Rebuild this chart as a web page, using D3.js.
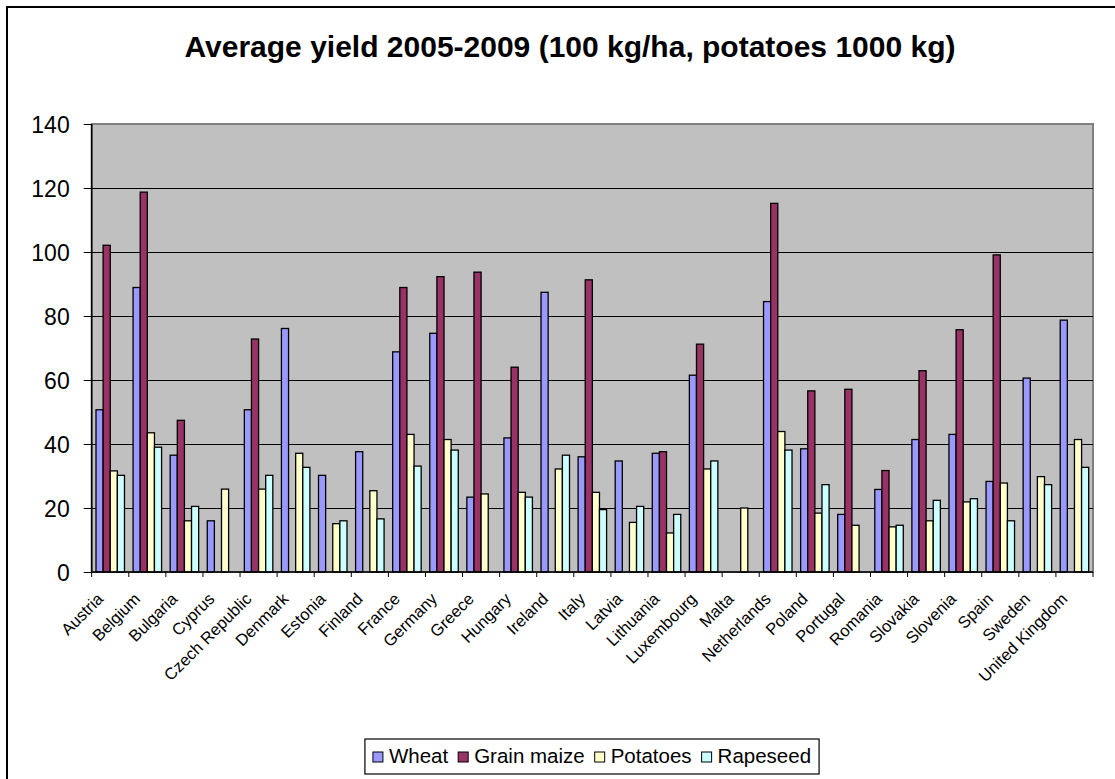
<!DOCTYPE html>
<html>
<head>
<meta charset="utf-8">
<script src="https://cdn.jsdelivr.net/npm/d3@7"></script>
<style>
  html, body { margin: 0; padding: 0; background: #fff; }
  svg { display: block; font-family: Arial, "Liberation Sans", sans-serif; }
</style>
</head>
<body>
<svg id="chart" width="1115" height="779"></svg>
<script>
const titleText = "Average yield 2005-2009 (100 kg/ha, potatoes 1000 kg)";
const countries = ["Austria","Belgium","Bulgaria","Cyprus","Czech Republic","Denmark","Estonia","Finland","France","Germany","Greece","Hungary","Ireland","Italy","Latvia","Lithuania","Luxembourg","Malta","Netherlands","Poland","Portugal","Romania","Slovakia","Slovenia","Spain","Sweden","United Kingdom"];
const seriesNames = ["Wheat","Grain maize","Potatoes","Rapeseed"];
const seriesColors = ["#9999FF","#993366","#FFFFCC","#CCFFFF"];
const wheat      = [50.7, 88.9, 36.5, 16.0, 50.7, 76.1, 30.2, 37.6, 68.8, 74.6, 23.4, 41.9, 87.4, 36.0, 34.7, 37.1, 61.5, null, 84.5, 38.5, 18.0, 25.8, 41.4, 43.0, 28.3, 60.6, 78.7];
const grainMaize = [102.1, 118.7, 47.4, null, 72.8, null, null, null, 88.9, 92.3, 93.7, 64.0, null, 91.3, null, 37.6, 71.2, null, 115.2, 56.6, 57.1, 31.7, 62.9, 75.7, 99.1, null, null];
const potatoes   = [31.6, 43.5, 16.0, 25.9, 25.9, 37.1, 15.1, 25.4, 43.0, 41.4, 24.4, 24.9, 32.2, 24.9, 15.5, 12.2, 32.2, 20.0, 43.9, 18.4, 14.6, 14.1, 16.0, 21.9, 27.8, 29.8, 41.4];
const rapeseed   = [30.2, 39.0, 20.5, null, 30.2, 32.7, 16.0, 16.6, 33.1, 38.1, null, 23.4, 36.5, 19.5, 20.5, 18.0, 34.7, null, 38.1, 27.3, null, 14.6, 22.4, 22.9, 16.0, 27.3, 32.7];
const yTicks = [0, 20, 40, 60, 80, 100, 120, 140];

const seriesValues = [wheat, grainMaize, potatoes, rapeseed];

const svg = d3.select("#chart");

// outer chart border
svg.append("rect").attr("x", 7).attr("y", 7).attr("width", 1130).attr("height", 800)
  .attr("fill", "#fff").attr("stroke", "#000").attr("stroke-width", 2);

const plotLeft = 91.7, plotRight = 1093, plotTop = 124, plotBottom = 572;

const x0 = d3.scaleBand().domain(countries).range([plotLeft, plotRight]).padding(0);
const bw = x0.bandwidth();
const x1 = d3.scaleBand().domain(seriesNames).range([bw * 0.116, bw * 0.884]).padding(0);
const y = d3.scaleLinear().domain([0, 140]).range([plotBottom, plotTop]);

// plot background
svg.append("rect").attr("x", plotLeft).attr("y", plotTop).attr("width", plotRight - plotLeft).attr("height", plotBottom - plotTop)
  .attr("fill", "#C0C0C0").attr("stroke", "#808080").attr("stroke-width", 2);

// gridlines
svg.append("g").selectAll("line").data(yTicks.filter(d => d > 0 && d < 140)).join("line")
  .attr("x1", plotLeft).attr("x2", plotRight)
  .attr("y1", d => Math.round(y(d)) + 0.5).attr("y2", d => Math.round(y(d)) + 0.5)
  .attr("stroke", "#000").attr("stroke-width", 1);

// bars
const groups = svg.append("g").selectAll("g").data(countries).join("g")
  .attr("transform", d => `translate(${x0(d)},0)`);
groups.selectAll("rect")
  .data((c, i) => seriesNames.map((s, k) => ({ s, k, v: seriesValues[k][i] })).filter(d => d.v != null))
  .join("rect")
  .attr("x", d => x1(d.s))
  .attr("width", x1.bandwidth())
  .attr("y", d => y(d.v))
  .attr("height", d => y(0) - y(d.v))
  .attr("fill", d => seriesColors[d.k])
  .attr("stroke", "#000").attr("stroke-width", 1.3);

// y axis
const yAxis = d3.axisLeft(y).tickValues(yTicks).tickSize(8).tickPadding(8).tickFormat(d3.format("d"));
const yg = svg.append("g").attr("transform", `translate(${plotLeft},0)`).call(yAxis);
yg.select(".domain").attr("stroke", "#000").attr("stroke-width", 1.5).attr("d", `M0,${plotTop}V${plotBottom}`);
yg.selectAll(".tick line").attr("stroke", "#000").attr("x2", -8).attr("x1", 0);
yg.selectAll(".tick text").attr("font-size", 23).attr("fill", "#000")
  .attr("font-family", "Arial, 'Liberation Sans', sans-serif").attr("x", -22).attr("dy", "0.35em");

// x axis
const xAxis = d3.axisBottom(x0).tickSize(0).tickFormat("");
const xg = svg.append("g").attr("transform", `translate(0,${plotBottom})`).call(xAxis);
xg.select(".domain").attr("stroke", "#000").attr("stroke-width", 1.5).attr("d", `M${plotLeft},0H${plotRight}`);
xg.selectAll(".tick").remove();
// boundary tick marks
xg.append("g").selectAll("line").data(d3.range(countries.length + 1)).join("line")
  .attr("x1", i => plotLeft + i * bw).attr("x2", i => plotLeft + i * bw)
  .attr("y1", 0).attr("y2", 5).attr("stroke", "#000").attr("stroke-width", 1);
// labels
xg.append("g").selectAll("text").data(countries).join("text")
  .attr("transform", d => `translate(${x0(d) + bw / 2 - 6},${28}) rotate(-45)`)
  .attr("text-anchor", "end")
  .attr("font-size", 16.5)
  .attr("fill", "#000")
  .text(d => d);

// title
svg.append("text").attr("x", 570).attr("y", 57).attr("text-anchor", "middle")
  .attr("font-size", 30).attr("font-weight", "bold").attr("fill", "#000").text(titleText);

// legend
const lg = svg.append("g");
const legendBox = lg.append("rect").attr("y", 739).attr("height", 35)
  .attr("fill", "#fff").attr("stroke", "#000").attr("stroke-width", 1.2);
let cx = 0;
const items = [];
seriesNames.forEach((name, k) => {
  const g = lg.append("g");
  g.append("rect").attr("x", cx).attr("y", 752).attr("width", 10).attr("height", 10)
    .attr("fill", seriesColors[k]).attr("stroke", "#000").attr("stroke-width", 1);
  const t = g.append("text").attr("x", cx + 16).attr("y", 763).attr("font-size", 20.5).attr("fill", "#000").text(name);
  const w = t.node().getComputedTextLength();
  cx += 16 + w + 10;
  items.push(g);
});
const totalW = cx - 10;
const legendCenter = 592;
const startX = legendCenter - totalW / 2;
items.forEach(g => g.attr("transform", `translate(${startX},0)`));
legendBox.attr("x", startX - 8).attr("width", totalW + 16);
</script>
</body>
</html>
